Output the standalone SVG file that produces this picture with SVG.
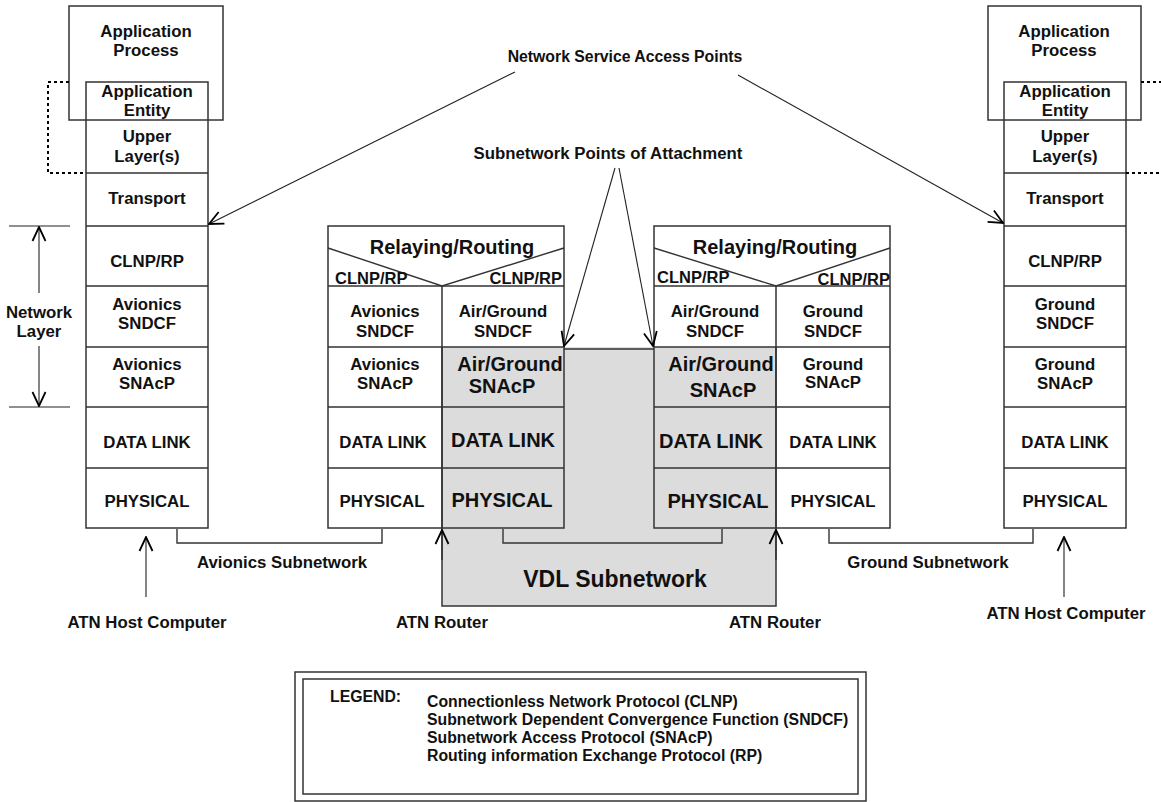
<svg xmlns="http://www.w3.org/2000/svg" width="1161" height="802" viewBox="0 0 1161 802">
  <defs>
    <style>
      .box { fill: none; stroke: #333; stroke-width: 1.5; }
      .ln { fill: none; stroke: #333; stroke-width: 1.4; }
      .thin { fill: none; stroke: #222; stroke-width: 1.1; }
      .dot { fill: none; stroke: #000; stroke-width: 2; stroke-dasharray: 3 3; }
      text { font-family: "Liberation Sans", Arial, Helvetica, sans-serif; font-weight: bold; fill: #111; }
      .t { font-size: 16.8px; text-anchor: middle; }
      .ts { font-size: 16.5px; }
      .tl { font-size: 20px; text-anchor: middle; }
      .tv { font-size: 23px; text-anchor: middle; }
      .lg { font-size: 15.8px; }
      .shade { fill: #dcdcdc; stroke: none; }
    </style>
    <marker id="arr" viewBox="0 0 16 16" refX="15" refY="8" markerWidth="16" markerHeight="16" orient="auto" markerUnits="userSpaceOnUse">
      <path d="M1,1.5 L15,8 L1,14.5" fill="none" stroke="#000" stroke-width="1.8"/>
    </marker>
  </defs>

  <!-- shaded VDL subnetwork area -->
  <g id="vdl-subnetwork">
    <rect class="shade" x="442" y="347" width="334" height="259"/>
    <path class="box" d="M442,347 V606 H776 V347"/>
    <line class="box" x1="564" y1="349" x2="654" y2="349"/>
    <text class="tv" x="615" y="587">VDL Subnetwork</text>
  </g>

  <!-- left end system -->
  <g id="host-left">
    <rect class="box" x="69" y="6" width="154" height="114"/>
    <rect class="box" x="86" y="82" width="122" height="446"/>
    <path class="box" d="M86,173 H208 M86,226 H208 M86,286 H208 M86,347 H208 M86,407 H208 M86,468 H208"/>
    <text class="t" x="146" y="37">Application</text>
    <text class="t" x="146" y="56">Process</text>
    <text class="t" x="147" y="97">Application</text>
    <text class="t" x="147" y="116">Entity</text>
    <text class="t" x="147" y="142">Upper</text>
    <text class="t" x="147" y="162">Layer(s)</text>
    <text class="t" x="147" y="204">Transport</text>
    <text class="t" x="147" y="267">CLNP/RP</text>
    <text class="t" x="147" y="310">Avionics</text>
    <text class="t" x="147" y="329">SNDCF</text>
    <text class="t" x="147" y="370">Avionics</text>
    <text class="t" x="147" y="389">SNAcP</text>
    <text class="t" x="147" y="448">DATA LINK</text>
    <text class="t" x="147" y="507">PHYSICAL</text>
  </g>

  <!-- right end system -->
  <g id="host-right">
    <rect class="box" x="988" y="6" width="153" height="114"/>
    <rect class="box" x="1004" y="82" width="122" height="446"/>
    <path class="box" d="M1004,173 H1126 M1004,226 H1126 M1004,286 H1126 M1004,347 H1126 M1004,407 H1126 M1004,468 H1126"/>
    <text class="t" x="1064" y="37">Application</text>
    <text class="t" x="1064" y="56">Process</text>
    <text class="t" x="1065" y="97">Application</text>
    <text class="t" x="1065" y="116">Entity</text>
    <text class="t" x="1065" y="142">Upper</text>
    <text class="t" x="1065" y="162">Layer(s)</text>
    <text class="t" x="1065" y="204">Transport</text>
    <text class="t" x="1065" y="267">CLNP/RP</text>
    <text class="t" x="1065" y="310">Ground</text>
    <text class="t" x="1065" y="329">SNDCF</text>
    <text class="t" x="1065" y="370">Ground</text>
    <text class="t" x="1065" y="389">SNAcP</text>
    <text class="t" x="1065" y="448">DATA LINK</text>
    <text class="t" x="1065" y="507">PHYSICAL</text>
  </g>

  <!-- airborne router -->
  <g id="router-left">
    <rect class="box" x="328" y="226" width="236" height="302"/>
    <path class="ln" d="M328,248 L442,286 L564,248"/>
    <path class="box" d="M328,286 H564 M442,286 V528 M328,347 H564 M328,407 H564 M328,468 H564"/>
    <text class="tl" x="452" y="254">Relaying/Routing</text>
    <text class="ts" x="335" y="284">CLNP/RP</text>
    <text class="ts" x="562" y="284" text-anchor="end">CLNP/RP</text>
    <text class="t" x="385" y="317">Avionics</text>
    <text class="t" x="385" y="337">SNDCF</text>
    <text class="t" x="503" y="317">Air/Ground</text>
    <text class="t" x="503" y="337">SNDCF</text>
    <text class="t" x="385" y="370">Avionics</text>
    <text class="t" x="385" y="389">SNAcP</text>
    <text class="tl" x="510" y="371">Air/Ground</text>
    <text class="tl" x="502" y="393">SNAcP</text>
    <text class="t" x="383" y="448">DATA LINK</text>
    <text class="tl" x="503" y="447">DATA LINK</text>
    <text class="t" x="382" y="507">PHYSICAL</text>
    <text class="tl" x="502" y="507">PHYSICAL</text>
  </g>

  <!-- ground router -->
  <g id="router-right">
    <rect class="box" x="654" y="226" width="236" height="302"/>
    <path class="ln" d="M654,248 L776,286 L890,248"/>
    <path class="box" d="M654,286 H890 M776,286 V528 M654,347 H890 M654,407 H890 M654,468 H890"/>
    <text class="tl" x="775" y="254">Relaying/Routing</text>
    <text class="ts" x="657" y="283">CLNP/RP</text>
    <text class="ts" x="890" y="285" text-anchor="end">CLNP/RP</text>
    <text class="t" x="715" y="317">Air/Ground</text>
    <text class="t" x="715" y="337">SNDCF</text>
    <text class="t" x="833" y="317">Ground</text>
    <text class="t" x="833" y="337">SNDCF</text>
    <text class="tl" x="721" y="371">Air/Ground</text>
    <text class="tl" x="723" y="397">SNAcP</text>
    <text class="t" x="833" y="370">Ground</text>
    <text class="t" x="833" y="388">SNAcP</text>
    <text class="tl" x="711" y="448">DATA LINK</text>
    <text class="t" x="833" y="448">DATA LINK</text>
    <text class="tl" x="718" y="508">PHYSICAL</text>
    <text class="t" x="833" y="507">PHYSICAL</text>
  </g>

  <!-- network layer bracket -->
  <g id="network-layer">
    <path class="thin" d="M9,226 H70 M9,407 H70"/>
    <line class="thin" x1="39" y1="293" x2="39" y2="227" marker-end="url(#arr)"/>
    <line class="thin" x1="39" y1="346" x2="39" y2="406" marker-end="url(#arr)"/>
    <text class="t" x="39" y="318">Network</text>
    <text class="t" x="39" y="337">Layer</text>
  </g>

  <!-- connectors -->
  <g id="connectors">
    <path class="dot" d="M69,82 H48 V173 H86"/>
    <path class="dot" d="M1141,82 H1161 M1126,173 H1161"/>
    <line class="thin" x1="515" y1="72" x2="209" y2="224" marker-end="url(#arr)"/>
    <line class="thin" x1="738" y1="75" x2="1003" y2="223" marker-end="url(#arr)"/>
    <line class="thin" x1="615" y1="168" x2="564" y2="346" marker-end="url(#arr)"/>
    <line class="thin" x1="619" y1="168" x2="653" y2="346" marker-end="url(#arr)"/>
    <path class="ln" d="M177,529 V543 H382 V529"/>
    <path class="ln" d="M503,529 V543 H722 V529"/>
    <path class="ln" d="M829,529 V543 H1033 V529"/>
    <line class="thin" x1="146" y1="597" x2="146" y2="537" marker-end="url(#arr)"/>
    <line class="thin" x1="1064" y1="597" x2="1064" y2="537" marker-end="url(#arr)"/>
    <line class="thin" x1="442" y1="560" x2="442" y2="530" marker-end="url(#arr)"/>
    <line class="thin" x1="776" y1="560" x2="776" y2="530" marker-end="url(#arr)"/>
  </g>

  <!-- free labels -->
  <g id="labels">
    <text class="t" x="625" y="62" style="font-size:15.8px">Network Service Access Points</text>
    <text class="t" x="608" y="159">Subnetwork Points of Attachment</text>
    <text class="t" x="282" y="568">Avionics Subnetwork</text>
    <text class="t" x="928" y="568">Ground Subnetwork</text>
    <text class="t" x="147" y="628">ATN Host Computer</text>
    <text class="t" x="1066" y="619">ATN Host Computer</text>
    <text class="t" x="442" y="628">ATN Router</text>
    <text class="t" x="775" y="628">ATN Router</text>
  </g>

  <!-- legend -->
  <g id="legend">
    <rect class="box" x="295" y="672" width="571" height="129"/>
    <rect class="box" x="303" y="679" width="555" height="115"/>
    <text class="lg" x="330" y="702">LEGEND:</text>
    <text class="lg" x="427" y="707">Connectionless Network Protocol (CLNP)</text>
    <text class="lg" x="427" y="725">Subnetwork Dependent Convergence Function (SNDCF)</text>
    <text class="lg" x="427" y="743">Subnetwork Access Protocol (SNAcP)</text>
    <text class="lg" x="427" y="761">Routing information Exchange Protocol (RP)</text>
  </g>
</svg>
